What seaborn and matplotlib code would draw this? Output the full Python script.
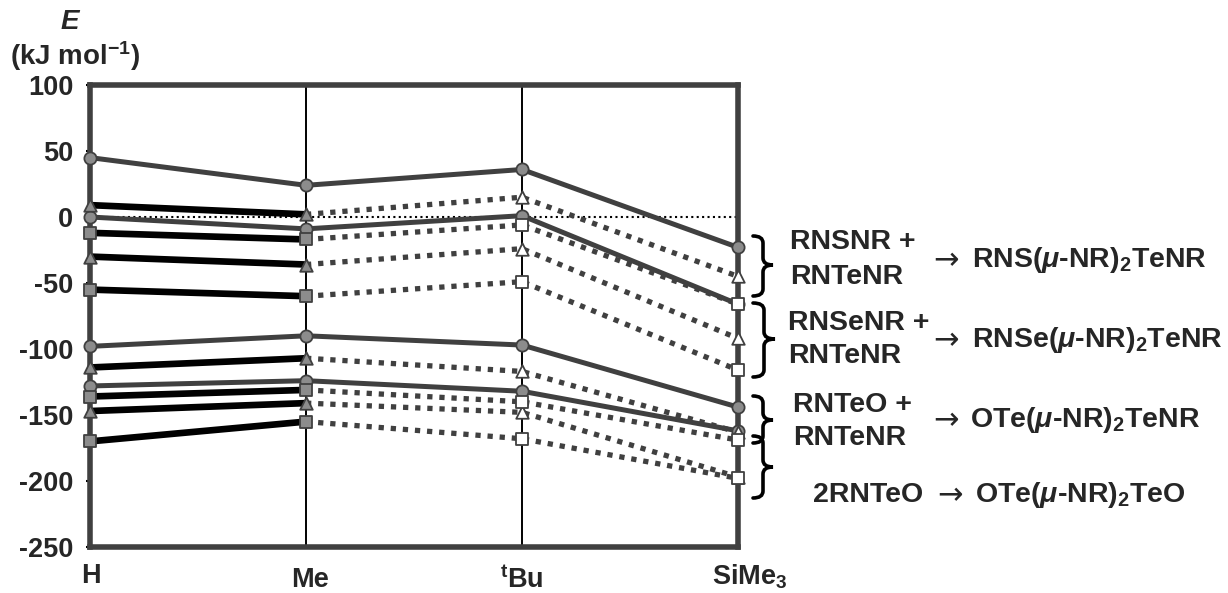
import numpy as np
import pandas as pd
import matplotlib
matplotlib.use("Agg")
import matplotlib.pyplot as plt
import seaborn as sns
from matplotlib.path import Path
from matplotlib.patches import PathPatch
from matplotlib.transforms import Affine2D

# substituents on the x axis
subs = ["H", "Me", "tBu", "SiMe3"]
sub_labels = ["H", "Me", "$^{t}$Bu", "SiMe$_3$"]

# reactions (rows of the arrays below)
reactions = ["RNSNR + RNTeNR", "RNSeNR + RNTeNR", "RNTeO + RNTeNR", "2RNTeO"]

# E (kJ/mol) per reaction, one row per reaction, columns = subs
E_circle = [
    [45, 24, 36, -23],
    [0, -9, 1, -66],
    [-98, -90, -97, -144],
    [-128, -124, -132, -162],
]
E_triangle = [
    [9, 2, 15, -45],
    [-30, -36, -24, -92],
    [-114, -107, -117, -163],
    [-147, -141, -148, -197],
]
E_square = [
    [-12, -17, -6, -66],
    [-55, -60, -49, -116],
    [-136, -131, -140, -169],
    [-170, -155, -168, -198],
]

rows = []
for method, table in [("o", E_circle), ("^", E_triangle), ("s", E_square)]:
    for r, vals in zip(reactions, table):
        for i, v in enumerate(vals):
            rows.append({"method": method, "reaction": r, "series": method + r,
                         "pos": i, "E": v})
df = pd.DataFrame(rows)

sns.set_style("white")
plt.rcParams["font.family"] = ["Liberation Sans", "DejaVu Sans"]
plt.rcParams["font.weight"] = "bold"
plt.rcParams["axes.unicode_minus"] = False
plt.rcParams["mathtext.fontset"] = "custom"
plt.rcParams["mathtext.rm"] = "Liberation Sans:bold"
plt.rcParams["mathtext.bf"] = "Liberation Sans:bold"
plt.rcParams["mathtext.it"] = "Liberation Sans:italic:bold"
plt.rcParams["mathtext.default"] = "rm"

DARK = "#404040"
GREY = "#8c8c8c"
W, H = 1228, 593

fig = plt.figure(figsize=(W / 100, H / 100), dpi=100)
ax = fig.add_axes([90 / W, 1 - 547 / H, (738 - 90) / W, (547 - 85) / H])

ax.axhline(0, color="black", lw=1.5, linestyle=(0, (1, 1.6)), zorder=1.5)

# circles: solid dark grey lines over the whole range
circ = df[df["method"] == "o"]
sns.lineplot(data=circ, x="pos", y="E", units="series", estimator=None,
             color=DARK, lw=3.6, sort=False, legend=False, ax=ax, zorder=2)

# triangles / squares: black solid H-Me, dotted Me-tBu-SiMe3
other = df[df["method"] != "o"]
sns.lineplot(data=other[other["pos"] <= 1], x="pos", y="E", units="series",
             estimator=None, color="black", lw=4.8, sort=False, legend=False,
             ax=ax, zorder=2)
sns.lineplot(data=other[other["pos"] >= 1], x="pos", y="E", units="series",
             estimator=None, color=DARK, lw=3.8, linestyle=(0, (1.0, 1.3)),
             dash_capstyle="butt", sort=False, legend=False, ax=ax, zorder=2)

# markers (drawn over the spines, as in the original)
mk = dict(edgecolor=DARK, linewidth=1.3, legend=False, ax=ax, zorder=5,
          clip_on=False)
sns.scatterplot(data=circ, x="pos", y="E", marker="o", s=8.8 ** 2,
                color=GREY, **mk)
for m, sz in [("^", 9.0), ("s", 8.4)]:
    sub = df[df["method"] == m]
    sns.scatterplot(data=sub[sub["pos"] <= 1], x="pos", y="E", marker=m,
                    s=sz ** 2, color=GREY, **mk)
    sns.scatterplot(data=sub[sub["pos"] >= 2], x="pos", y="E", marker=m,
                    s=sz ** 2, color="white", **mk)

ax.set_xlim(0, 3)
ax.set_ylim(-250, 100)
ax.set_yticks(np.arange(-250, 101, 50))
ax.set_xticks(range(len(subs)))
ax.set_xticklabels([])
ax.set_xlabel("")
ax.set_ylabel("")
ax.xaxis.grid(True, color="black", lw=1.4)
ax.tick_params(axis="x", length=0)
ax.tick_params(axis="y", length=3, width=1.5, color="black", pad=9,
               labelsize=19.5, left=True)
for lab in ax.get_yticklabels():
    lab.set_fontweight("bold")
for sp in ax.spines.values():
    sp.set_color(DARK)
    sp.set_linewidth(4)
    sp.set_zorder(4)

# pixel-based transform for annotations (origin top-left)
px = Affine2D().scale(1 / W, -1 / H).translate(0, 1) + fig.transFigure

fig.text(70, 22, "E", transform=px, fontsize=20, fontstyle="italic",
         fontweight="bold", ha="center", va="center")
fig.text(75, 56, "(kJ mol$^{-1}$)", transform=px, fontsize=20,
         fontweight="bold", ha="center", va="center")

for lab, (x, y) in zip(sub_labels, [(91, 576), (310, 580), (522, 580), (750, 577)]):
    fig.text(x, y, lab, transform=px, fontsize=19.5, fontweight="bold",
             ha="center", va="center")

FS = 20.5
left_notes = [
    ("RNSNR +", 790, 242), ("RNTeNR", 790, 277),
    ("RNSeNR +", 788, 323), ("RNTeNR", 788, 356),
    ("RNTeO +", 793, 405), ("RNTeNR", 793, 438),
    ("2RNTeO", 813, 495),
]
products = [
    ("RNS($\\mathit{\\mu}$-NR)$_2$TeNR", 933, 972, 260),
    ("RNSe($\\mathit{\\mu}$-NR)$_2$TeNR", 933, 972, 340),
    ("OTe($\\mathit{\\mu}$-NR)$_2$TeNR", 933, 970, 420),
    ("OTe($\\mathit{\\mu}$-NR)$_2$TeO", 937, 975, 495),
]
for t, x, y in left_notes:
    fig.text(x, y, t, transform=px, fontsize=FS, fontweight="bold",
             ha="left", va="center")
for t, xa, xt, y in products:
    fig.text(xa, y + 1, "→", transform=px, fontsize=22, family="DejaVu Sans",
             fontweight="normal", ha="left", va="center")
    fig.text(xt, y, t, transform=px, fontsize=FS, fontweight="bold",
             ha="left", va="center")


def brace(x0, x1, ytop, ybot, ytip, r=7):
    xm = (x0 + x1) / 2
    verts = [(x0, ytop), (xm, ytop), (xm, ytop + r),
             (xm, ytip - r), (xm, ytip), (x1, ytip),
             (xm, ytip), (xm, ytip + r),
             (xm, ybot - r), (xm, ybot), (x0, ybot)]
    codes = [Path.MOVETO, Path.CURVE3, Path.CURVE3, Path.LINETO,
             Path.CURVE3, Path.CURVE3, Path.CURVE3, Path.CURVE3,
             Path.LINETO, Path.CURVE3, Path.CURVE3]
    fig.add_artist(PathPatch(Path(verts, codes), transform=px, fill=False,
                             lw=2.6, edgecolor="black", capstyle="round"))


brace(753, 773, 236, 296, 265)
brace(753, 775, 303, 377, 339)
brace(753, 773, 396, 443, 420)
brace(753, 773, 436, 498, 467)

fig.savefig("out.png", dpi=100)
